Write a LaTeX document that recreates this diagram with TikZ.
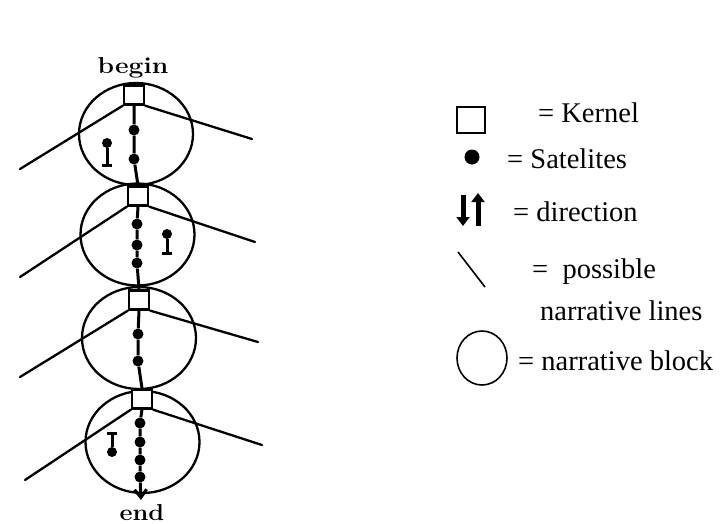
\documentclass[tikz,border=0pt]{standalone}
\usepackage{fontspec}
\newfontfamily\legendfont{Liberation Serif}
\usetikzlibrary{shapes.geometric,arrows.meta}
\begin{document}
\begin{tikzpicture}[x=1pt,y=-1pt,
  block/.style={draw, ellipse, line width=2.3pt, minimum width=114pt, minimum height=102pt, inner sep=0pt},
  kernel/.style={draw, rectangle, line width=2.3pt, minimum width=20pt, minimum height=19pt, inner sep=0pt, fill=white},
  sat/.style={circle, fill=black, minimum size=11pt, inner sep=0pt},
  spine/.style={line width=3pt},
  narr/.style={line width=2.3pt, line cap=round},
  dirdot/.style={circle, fill=black, minimum size=10pt, inner sep=0pt},
  dirline/.style={line width=3pt},
  lbl/.style={font=\bfseries\fontsize{23}{26}\selectfont, inner sep=0pt, anchor=base},
  legtext/.style={font=\legendfont\fontsize{28.5}{32}\selectfont, inner sep=0pt, anchor=base west},
]
\useasboundingbox (0,0) rectangle (722,523);

% narrative blocks
\node[block] (b1) at (136,134) {};
\node[block] (b2) at (137.5,234.5) {};
\node[block] (b3) at (139,338) {};
\node[block] (b4) at (142.5,442) {};

% end points of the possible narrative lines
\coordinate (l1) at (20,169);  \coordinate (r1) at (252,139);
\coordinate (l2) at (20,277);  \coordinate (r2) at (255,242);
\coordinate (l3) at (20,377);  \coordinate (r3) at (258,342);
\coordinate (l4) at (25,480);  \coordinate (r4) at (262,445);

% kernels
\node[kernel] (k1) at (134,95) {};
\node[kernel] (k2) at (138,196) {};
\node[kernel] (k3) at (139,300) {};
\node[kernel] (k4) at (142,399) {};

% narrative lines
\foreach \i in {1,2,3,4}{
  \draw[narr] (k\i.south west) -- (l\i);
  \draw[narr] (k\i.south east) -- (r\i);
}

% satellites
\node[sat] (s11) at (134,130) {};
\node[sat] (s12) at (134,159) {};
\node[sat] (s21) at (137,224) {};
\node[sat] (s22) at (137,245) {};
\node[sat] (s23) at (137,263) {};
\node[sat] (s31) at (138,334) {};
\node[sat] (s32) at (138,361) {};
\node[sat] (s41) at (140,423) {};
\node[sat] (s42) at (140,442) {};
\node[sat] (s43) at (140,460) {};
\node[sat] (s44) at (140,477) {};
\coordinate (tip) at (141,500);

% spine through kernels and satellites
\draw[spine] (k1.south) -- (s11) -- (s12) -- (k2.north);
\draw[spine] (k2.south) -- (s21) -- (s22) -- (s23) -- (k3.north);
\draw[spine] (k3.south) -- (s31) -- (s32) -- (k4.north);
\draw[spine] (k4.south) -- (s41) -- (s42) -- (s43) -- (s44);
\draw[spine, -{Straight Barb[length=8pt,width=12pt]}] (s44) -- (tip);

% direction markers
\node[dirdot] (d1) at (107,143) {};
\coordinate (e1) at (107,165);
\draw[dirline] (d1) -- (e1);
\draw[dirline] ([xshift=-5pt]e1) -- ([xshift=5pt]e1);

\node[dirdot] (d2) at (167,234) {};
\coordinate (e2) at (167,253);
\draw[dirline] (d2) -- (e2);
\draw[dirline] ([xshift=-5pt]e2) -- ([xshift=5pt]e2);

\node[dirdot] (d4) at (112,452) {};
\coordinate (e4) at (112,433);
\draw[dirline] (d4) -- (e4);
\draw[dirline] ([xshift=-5pt]e4) -- ([xshift=5pt]e4);

% labels
\node[lbl] (begin) at (133,73) {\scalebox{1.15}[1]{begin}};
\node[lbl] (end) at (142,520) {\scalebox{1.1}[1]{end}};

% legend
\node[draw, rectangle, line width=1.6pt, minimum width=28pt, minimum height=26pt, inner sep=0pt] (lk) at (471,120) {};
\node[legtext] (tk) at (538,122) {= Kernel};

\node[circle, fill=black, minimum size=15pt, inner sep=0pt] (ls) at (472,157) {};
\node[legtext] (ts) at (507,168) {= Satelites};

\coordinate (ad1) at (463,195); \coordinate (ad2) at (463,226);
\coordinate (au1) at (478,226); \coordinate (au2) at (478,193);
\draw[line width=5pt, -{Triangle[length=9pt,width=13pt]}] (ad1) -- (ad2);
\draw[line width=5pt, -{Triangle[length=9pt,width=13pt]}] (au1) -- (au2);
\node[legtext] (td) at (513,221) {= direction};

\coordinate (ln1) at (458,252); \coordinate (ln2) at (485,287);
\draw[line width=1.6pt] (ln1) -- (ln2);
\node[legtext] (tp) at (532,278) {=\ \ possible};
\node[legtext] (tn) at (540,320) {narrative lines};

\node[draw, ellipse, line width=1.6pt, minimum width=50pt, minimum height=54pt, inner sep=0pt] (le) at (482,358) {};
\node[legtext] (tb) at (518,370) {= narrative block};
\end{tikzpicture}
\end{document}
